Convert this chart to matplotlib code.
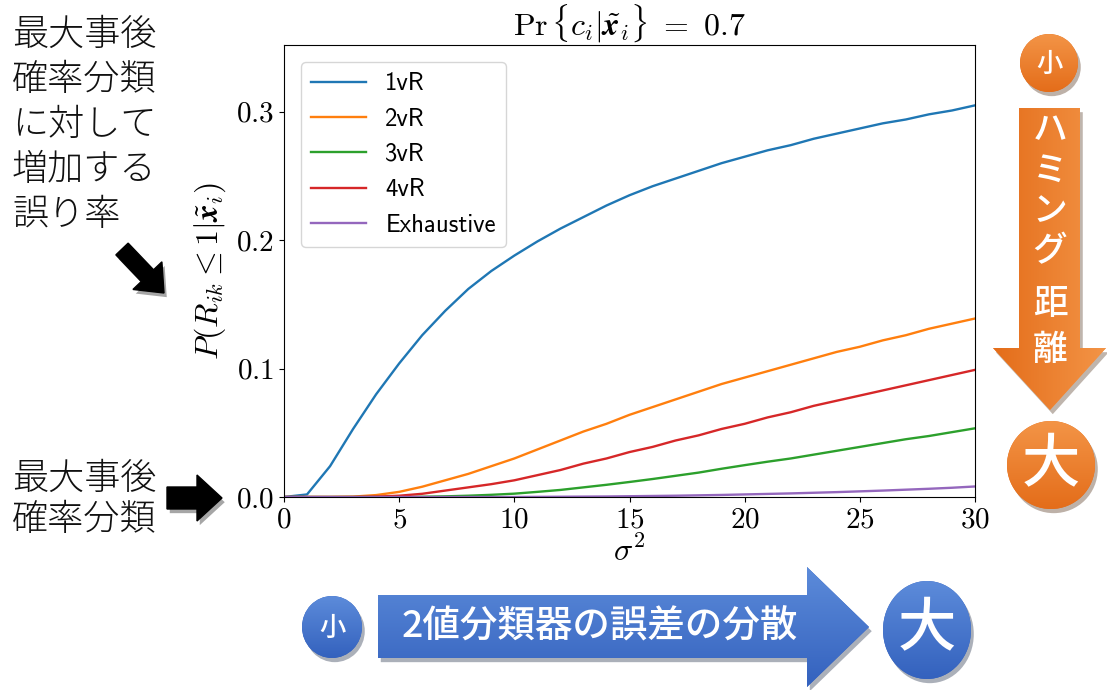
import numpy as np
import matplotlib
matplotlib.use("Agg")
import matplotlib.pyplot as plt
import matplotlib.patheffects as pe
from matplotlib.colors import LinearSegmentedColormap
from matplotlib.patches import Circle, Ellipse, Polygon, FancyArrow

plt.rcParams["mathtext.fontset"] = "cm"
plt.rcParams["font.family"] = ["cmr10", "DejaVu Serif"]
plt.rcParams["axes.formatter.use_mathtext"] = True

JP = ["Noto Sans CJK JP", "DejaVu Sans"]

# data (sigma^2 = 0..30)
sigma2 = list(range(31))
p_1vr = [0.000, 0.002, 0.024, 0.053, 0.080, 0.104, 0.126, 0.145, 0.162, 0.176,
         0.188, 0.199, 0.209, 0.218, 0.227, 0.235, 0.242, 0.248, 0.254, 0.260,
         0.265, 0.270, 0.274, 0.279, 0.283, 0.287, 0.291, 0.294, 0.298, 0.301, 0.305]
p_2vr = [0.0, 0.0, 0.0, 0.0003, 0.0015, 0.004, 0.008, 0.013, 0.018, 0.024,
         0.030, 0.037, 0.044, 0.051, 0.057, 0.064, 0.070, 0.076, 0.082, 0.088,
         0.093, 0.098, 0.103, 0.108, 0.113, 0.117, 0.122, 0.126, 0.131, 0.135, 0.139]
p_3vr = [0.0, 0.0, 0.0, 0.0, 0.0, 0.0, 0.0002, 0.0005, 0.001, 0.0017,
         0.0026, 0.0040, 0.0055, 0.0075, 0.0095, 0.0117, 0.014, 0.0165, 0.019, 0.022,
         0.0248, 0.0275, 0.030, 0.033, 0.036, 0.039, 0.042, 0.045, 0.0475, 0.0505, 0.0535]
p_4vr = [0.0, 0.0, 0.0, 0.0, 0.0003, 0.001, 0.0025, 0.005, 0.0075, 0.010,
         0.013, 0.017, 0.021, 0.026, 0.030, 0.035, 0.039, 0.044, 0.048, 0.053,
         0.057, 0.062, 0.066, 0.071, 0.075, 0.079, 0.083, 0.087, 0.091, 0.095, 0.099]
p_exh = [0.0] * 11 + [0.0001, 0.0002, 0.0003, 0.0004, 0.0006, 0.0008, 0.001, 0.0013, 0.0016,
                      0.002, 0.0024, 0.0028, 0.0033, 0.0038, 0.0044, 0.005, 0.0057, 0.0064,
                      0.0072, 0.0082]
series_labels = ["1vR", "2vR", "3vR", "4vR", "Exhaustive"]

W, H = 1107, 690
fig = plt.figure(figsize=(W / 100, H / 100), dpi=100)
ax = fig.add_axes([284 / W, 1 - 497 / H, (975 - 284) / W, (497 - 45) / H])

for ys, lab in zip([p_1vr, p_2vr, p_3vr, p_4vr, p_exh], series_labels):
    ax.plot(sigma2, ys, lw=1.7, label=lab)

ax.set_xlim(0, 30)
ax.set_ylim(0, 0.352)
ax.set_xticks([0, 5, 10, 15, 20, 25, 30])
ax.set_yticks([0.0, 0.1, 0.2, 0.3])
ax.tick_params(labelsize=21)
ax.set_title(r"$\Pr\{c_i|\tilde{\boldsymbol{x}}_i\}\ =\ 0.7$", fontsize=23, pad=5)
ax.set_xlabel(r"$\sigma^2$", fontsize=23, labelpad=2)
ax.set_ylabel(r"$P(R_{ik} \leq 1|\tilde{\boldsymbol{x}}_i)$", fontsize=23, labelpad=6)
ax.legend(loc="upper left", prop={"family": "cmss10", "size": 17.8},
          handlelength=2.2, borderaxespad=0.7)

# overlay in pixel coordinates for the slide decorations
ov = fig.add_axes([0, 0, 1, 1], zorder=3)
ov.set_xlim(0, W)
ov.set_ylim(H, 0)
ov.axis("off")
ov.patch.set_alpha(0)

shadow = [pe.SimplePatchShadow(offset=(2, -3), alpha=0.35), pe.Normal()]


def fill_grad(patch, c_top, c_bot, horizontal=False):
    patch.set_facecolor(c_bot)
    patch.set_edgecolor("none")
    patch.set_path_effects(shadow)
    ov.add_patch(patch)
    bb = patch.get_path().get_extents(patch.get_patch_transform())
    cmap = LinearSegmentedColormap.from_list("g", [c_top, c_bot])
    g = np.linspace(0, 1, 64)
    arr = g[None, :] if horizontal else g[:, None]
    im = ov.imshow(arr, cmap=cmap, extent=(bb.x0, bb.x1, bb.y1, bb.y0),
                   aspect="auto", origin="upper", zorder=patch.get_zorder() + 0.1)
    im.set_clip_path(patch)


# left text and black arrows
ov.text(12, 125, "最大事後\n確率分類\nに対して\n増加する\n誤り率", family=JP, fontsize=26,
        fontweight="light", va="center", ha="left", linespacing=1.22, color="#111111")
ov.text(12, 499, "最大事後\n確率分類", family=JP, fontsize=26, fontweight="light",
        va="center", ha="left", linespacing=1.1, color="#111111")
ov.add_patch(FancyArrow(122, 249, 42, 44, width=17, head_width=40, head_length=24,
                        length_includes_head=True, color="black", path_effects=shadow))
ov.add_patch(FancyArrow(167, 498, 55, 0, width=22, head_width=46, head_length=25,
                        length_includes_head=True, color="black", path_effects=shadow))

# orange vertical arrow
org_l, org_d = "#F39446", "#E46D1A"
fill_grad(Polygon([(1019, 108), (1080, 108), (1080, 348), (1106, 348), (1050, 410),
                   (993, 348), (1019, 348)]), org_d, org_l, horizontal=True)
fill_grad(Circle((1049, 63), 29), org_l, org_d)
fill_grad(Circle((1051, 465), 44), org_l, org_d)
ov.text(1049, 64, "小", family=JP, fontsize=19, color="white", ha="center", va="center",
        fontweight="medium", zorder=5)
ov.text(1051, 466, "大", family=JP, fontsize=42, color="white", ha="center", va="center",
        fontweight="medium", zorder=5)
for ch, yy in zip("ハミング距離", [130, 171, 211, 251, 304, 350]):
    ov.text(1050, yy, ch, family=JP, fontsize=25, color="white", ha="center", va="center",
            fontweight="medium", zorder=5)

# blue horizontal arrow
blu_l, blu_d = "#5C8BDA", "#3462BE"
fill_grad(Polygon([(378, 595), (807, 595), (807, 567), (869, 627), (807, 687),
                   (807, 658), (378, 658)]), blu_l, blu_d)
fill_grad(Ellipse((332, 627), 60, 62), blu_l, blu_d)
fill_grad(Ellipse((927, 630), 88, 98), blu_l, blu_d)
ov.text(332, 628, "小", family=JP, fontsize=19, color="white", ha="center", va="center",
        fontweight="medium", zorder=5)
ov.text(927, 630, "大", family=JP, fontsize=42, color="white", ha="center", va="center",
        fontweight="medium", zorder=5)
ov.text(600, 627, "2値分類器の誤差の分散", family=JP, fontsize=27, color="white",
        ha="center", va="center", fontweight="medium", zorder=5)

fig.savefig("out.png", dpi=100)
